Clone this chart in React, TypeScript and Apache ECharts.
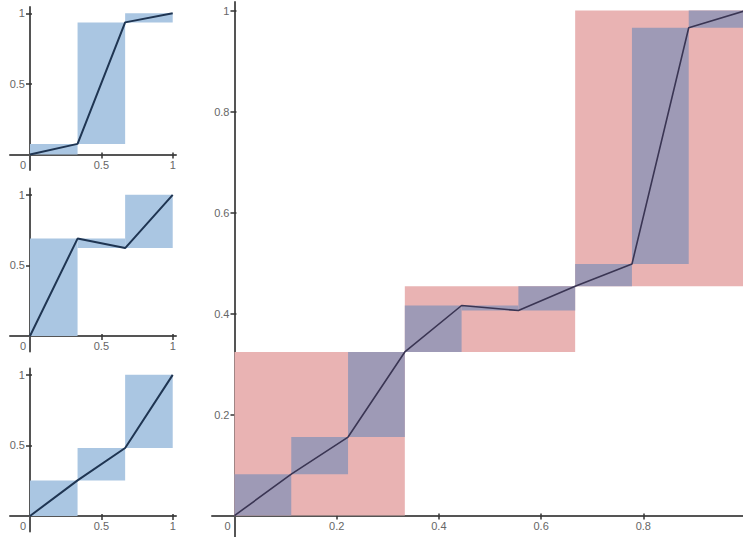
import React, { useEffect, useRef } from 'react';
import * as echarts from 'echarts';

// ---- data ----
const thirdsX = [0, 1 / 3, 2 / 3, 1];
const ninthsX = [0, 1 / 9, 2 / 9, 3 / 9, 4 / 9, 5 / 9, 6 / 9, 7 / 9, 8 / 9, 1];
const plot1Y = [0, 0.075, 0.936, 1];
const plot2Y = [0, 0.69, 0.623, 1];
const plot3Y = [0, 0.252, 0.482, 1];
const mainOuterY = [0, 0.324, 0.454, 1];
const mainY = [0, 0.082, 0.1555, 0.324, 0.416, 0.406, 0.454, 0.498, 0.966, 1];

const smallTicks = [0.5, 1];
const smallXLabels = [0, 0.5, 1];
const smallYLabels = [0.5, 1];
const mainXTicks = [0.2, 0.4, 0.6, 0.8];
const mainXLabels = [0, 0.2, 0.4, 0.6, 0.8];
const mainYTicks = [0.2, 0.4, 0.6, 0.8, 1];

// ---- styles ----
const BLUE = '#aac6e2';
const RED = '#e9b3b3';
const PURPLE = '#9e9ab6';
const SMALL_LINE = '#1f3552';
const MAIN_LINE = '#3a3553';
const AXIS = '#555555';
const TICK = '#333333';
const LABEL = '#666666';
const FONT = 'Liberation Sans, Arial, sans-serif';

const segRects = (xs: number[], ys: number[]) =>
  xs.slice(0, -1).map((x, i) => [x, xs[i + 1], Math.min(ys[i], ys[i + 1]), Math.max(ys[i], ys[i + 1])]);

const pts = (xs: number[], ys: number[]) => xs.map((x, i) => [x, ys[i]]);

const grids = [
  { left: 10, top: 7, width: 166, height: 163 },
  { left: 10, top: 188.5, width: 166, height: 163 },
  { left: 10, top: 368.5, width: 166, height: 163 },
  { left: 212, top: 2, width: 533.5, height: 535.8 },
];
const xRanges = [[-0.14, 1.023], [-0.14, 1.023], [-0.14, 1.023], [-0.044, 1.0]];
const yRanges = [[-0.11, 1.045], [-0.11, 1.045], [-0.11, 1.045], [-0.044, 1.017]];

function rectSeries(gi: number, data: number[][], color: string) {
  return {
    type: 'custom',
    xAxisIndex: gi,
    yAxisIndex: gi,
    encode: { x: [0, 1], y: [2, 3] },
    data,
    silent: true,
    renderItem: (_p: any, api: any) => {
      const a = api.coord([api.value(0), api.value(3)]);
      const b = api.coord([api.value(1), api.value(2)]);
      return {
        type: 'rect',
        shape: { x: a[0], y: a[1], width: b[0] - a[0], height: b[1] - a[1] },
        style: { fill: color },
      };
    },
  };
}

function lineSeries(gi: number, data: number[][], color: string, width: number) {
  return {
    type: 'line',
    xAxisIndex: gi,
    yAxisIndex: gi,
    data,
    showSymbol: false,
    symbol: 'none',
    silent: true,
    lineStyle: { color, width },
    z: 5,
  };
}

const labelStyle = { color: LABEL, fontSize: 11, fontFamily: FONT };

export default function App() {
  const ref = useRef<HTMLDivElement>(null);
  useEffect(() => {
    if (!ref.current) return;
    const chart = echarts.init(ref.current, undefined, { renderer: 'svg' });
    const xAxes: any[] = [];
    const yAxes: any[] = [];
    for (let g = 0; g < 4; g++) {
      const isMain = g === 3;
      const gr = grids[g];
      const [x0, x1] = xRanges[g];
      const [y0, y1] = yRanges[g];
      // pixel distance of the zero lines from each grid edge
      const zeroFromBottom = ((0 - y0) / (y1 - y0)) * gr.height;
      const zeroFromTop = gr.height - zeroFromBottom;
      const zeroFromLeft = ((0 - x0) / (x1 - x0)) * gr.width;
      const zeroFromRight = gr.width - zeroFromLeft;
      const xt = isMain ? mainXTicks : smallTicks;
      const yt = isMain ? mainYTicks : smallTicks;
      xAxes.push({
        type: 'value',
        gridIndex: g,
        position: 'bottom',
        offset: -zeroFromBottom,
        min: x0,
        max: x1,
        splitLine: { show: false },
        axisLine: { show: true, onZero: false, lineStyle: { color: AXIS, width: 2 } },
        axisTick: { show: true, customValues: xt, length: 4, lineStyle: { color: TICK, width: 1.5 } },
        axisLabel: {
          ...labelStyle,
          margin: 5,
          customValues: isMain ? mainXLabels : smallXLabels,
          formatter: (v: number) => (v === 0 ? '{z|0}' : String(v)),
          rich: { z: { ...labelStyle, padding: [0, 14, 0, 0] } },
        },
      });
      yAxes.push({
        type: 'value',
        gridIndex: g,
        position: 'left',
        offset: -zeroFromLeft,
        min: y0,
        max: y1,
        splitLine: { show: false },
        axisLine: { show: true, onZero: false, lineStyle: { color: AXIS, width: 2 } },
        axisTick: { show: true, customValues: yt, length: 4, lineStyle: { color: TICK, width: 1.5 } },
        axisLabel: { ...labelStyle, margin: 5, customValues: isMain ? mainYTicks : smallYLabels },
      });
      // mirror axes: short ticks on the other side of each axis line
      xAxes.push({
        type: 'value',
        gridIndex: g,
        position: 'top',
        offset: -zeroFromTop,
        min: x0,
        max: x1,
        splitLine: { show: false },
        axisLine: { show: false, onZero: false },
        axisTick: { show: true, customValues: xt, length: 2, lineStyle: { color: TICK, width: 1.5 } },
        axisLabel: { show: false },
      });
      yAxes.push({
        type: 'value',
        gridIndex: g,
        position: 'right',
        offset: -zeroFromRight,
        min: y0,
        max: y1,
        splitLine: { show: false },
        axisLine: { show: false, onZero: false },
        axisTick: { show: true, customValues: yt, length: 2, lineStyle: { color: TICK, width: 1.5 } },
        axisLabel: { show: false },
      });
    }
    const smallYs = [plot1Y, plot2Y, plot3Y];
    const series: any[] = [];
    smallYs.forEach((ys, g) => {
      series.push(rectSeries(g * 2, segRects(thirdsX, ys), BLUE));
      series.push(lineSeries(g * 2, pts(thirdsX, ys), SMALL_LINE, 2));
    });
    series.push(rectSeries(6, segRects(thirdsX, mainOuterY), RED));
    series.push(rectSeries(6, segRects(ninthsX, mainY), PURPLE));
    series.push(lineSeries(6, pts(ninthsX, mainY), MAIN_LINE, 1.6));

    chart.setOption({
      animation: false,
      backgroundColor: '#ffffff',
      grid: grids.map((g) => ({ ...g, outerBoundsMode: 'none', containLabel: false })),
      xAxis: xAxes,
      yAxis: yAxes,
      series,
    });
    return () => chart.dispose();
  }, []);
  return (
    <div
      ref={ref}
      style={{ position: 'absolute', left: 0, top: 0, width: 743, height: 537 }}
    />
  );
}
